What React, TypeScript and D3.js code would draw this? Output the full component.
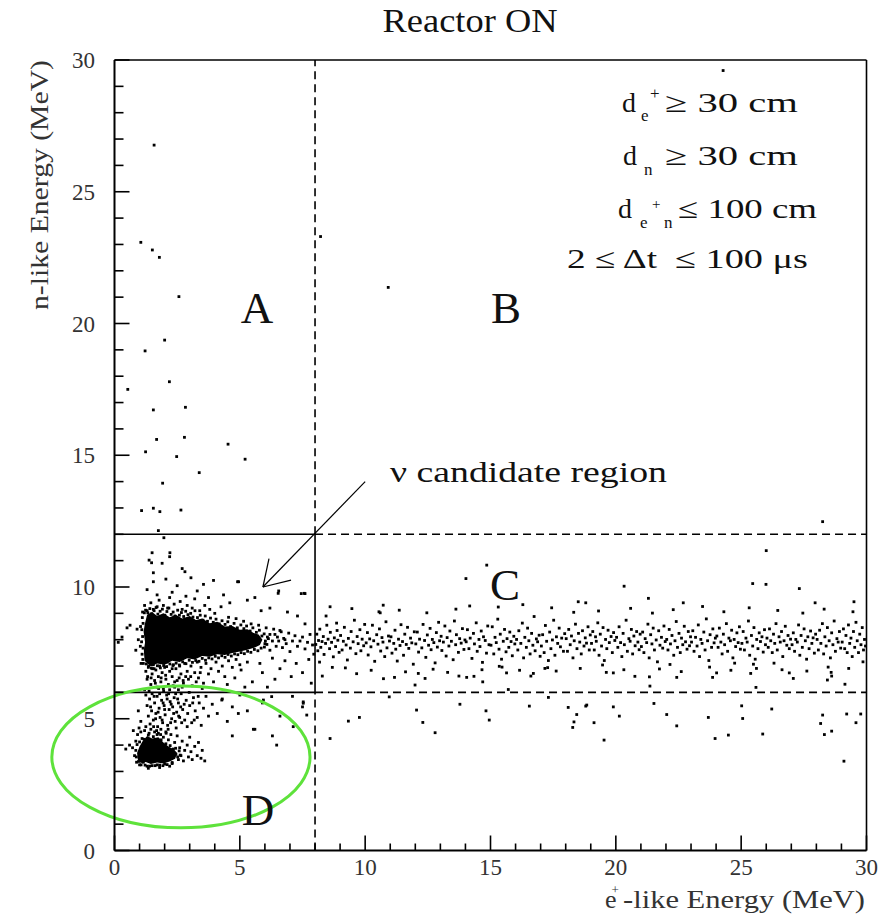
import React from 'react';
import * as d3 from 'd3';

const W = 879;
const H = 916;

const xDomain: [number, number] = [0, 30];
const yDomain: [number, number] = [0, 30];
const xMajorTicks = [0, 5, 10, 15, 20, 25, 30];
const yMajorTicks = [0, 5, 10, 15, 20, 25, 30];
const minorTicks = [1, 2, 3, 4, 6, 7, 8, 9, 11, 12, 13, 14, 16, 17, 18, 19, 21, 22, 23, 24, 26, 27, 28, 29];

const ePlusCut = 8;
const nLowCut = 6;
const nHighCut = 12;

const arrowFrom: [number, number] = [10, 14];
const arrowTo: [number, number] = [5.92, 10.0];

const ellipseCenter: [number, number] = [2.65, 3.55];
const ellipseRadii: [number, number] = [5.15, 2.69];

// saturated (fully black) parts of the two dense clusters
const coreUpper: [number, number][] = [
  [1.2, 7.2], [1.17, 7.6], [1.22, 7.9], [1.16, 8.3], [1.21, 8.6], [1.3, 8.95], [1.5, 9.05], [1.7, 8.9],
  [1.95, 9.0], [2.2, 8.85], [2.45, 8.95], [2.7, 8.8], [3.0, 8.9], [3.25, 8.75], [3.5, 8.8], [3.8, 8.62],
  [4.1, 8.68], [4.4, 8.5], [4.7, 8.52], [5.0, 8.38], [5.3, 8.4], [5.55, 8.25], [5.75, 8.2], [5.9, 8.0],
  [5.8, 7.8], [5.6, 7.7], [5.3, 7.62], [5.0, 7.55], [4.7, 7.5], [4.4, 7.42], [4.1, 7.45], [3.8, 7.35],
  [3.5, 7.38], [3.2, 7.25], [2.9, 7.3], [2.6, 7.15], [2.3, 7.2], [2.0, 7.05], [1.7, 7.1], [1.45, 6.98],
];
const coreLower: [number, number][] = [
  [0.93, 3.45], [1.05, 3.32], [1.25, 3.36], [1.45, 3.28], [1.7, 3.34], [1.95, 3.3], [2.2, 3.38], [2.42, 3.48],
  [2.5, 3.7], [2.35, 3.85], [2.15, 3.95], [1.95, 4.1], [1.75, 4.3], [1.5, 4.25], [1.3, 4.35], [1.12, 4.15],
  [1.0, 3.95], [0.9, 3.7],
];

const eventsHighN: [number, number][] = [
  [1.58, 26.77], [1.05, 23.08], [1.51, 22.79], [1.79, 22.51], [2.57, 21.02], [2.0, 19.37], [1.22, 18.96],
  [2.19, 17.79], [0.53, 17.5], [1.55, 16.72], [2.83, 16.82], [1.68, 15.6], [2.79, 15.68], [4.53, 15.42],
  [1.24, 15.13], [2.48, 14.95], [5.21, 14.85], [8.22, 23.3], [10.92, 21.37], [24.28, 29.6], [3.38, 14.34],
  [1.92, 13.94], [1.08, 12.9], [1.55, 12.99], [1.81, 12.86], [2.65, 12.92], [1.75, 12.14], [1.97, 11.87],
  [2.21, 11.3], [1.38, 11.02], [1.48, 10.92], [1.55, 10.54], [2.81, 10.58], [28.25, 12.48], [26.0, 11.38],
  [4.91, 10.2], [6.53, 9.76], [7.57, 9.76],
];

const eventsCoreEdge: [number, number][] = [
  [1.24, 9.12], [1.33, 9.02], [1.41, 9.18], [1.47, 8.98], [1.58, 9.1], [1.66, 9.22], [1.73, 8.97], [1.82, 9.08],
  [1.91, 9.16], [2.01, 8.93], [2.09, 9.07], [2.17, 9.2], [2.26, 8.96], [2.34, 9.05], [2.41, 8.9], [2.52, 9.12],
  [2.59, 8.93], [2.67, 9.03], [2.76, 8.88], [2.84, 9.08], [2.93, 8.95], [3.04, 9.0], [3.13, 8.86], [3.21, 9.1],
  [3.31, 8.84], [3.42, 8.93], [3.53, 8.74], [3.62, 8.9], [3.71, 8.7], [3.83, 8.82], [3.94, 8.66], [4.05, 8.78],
  [4.18, 8.6], [4.29, 8.72], [4.41, 8.58], [4.52, 8.68], [4.63, 8.5], [4.77, 8.62], [4.9, 8.45], [5.04, 8.56],
  [5.16, 8.42], [5.27, 8.52], [5.41, 8.33], [5.52, 8.45], [5.66, 8.28], [5.78, 8.36], [5.88, 8.14], [5.97, 8.22],
  [6.02, 7.95], [6.08, 7.82], [5.98, 7.72], [5.85, 7.68], [6.14, 8.04],
  [5.72, 7.58], [5.58, 7.63], [5.44, 7.52], [5.31, 7.56], [5.18, 7.47], [5.05, 7.51], [4.92, 7.43], [4.79, 7.46],
  [4.66, 7.38], [4.53, 7.44], [4.41, 7.33], [4.28, 7.39], [4.15, 7.31], [4.02, 7.37], [3.89, 7.27], [3.76, 7.31],
  [3.63, 7.22], [3.5, 7.29], [3.37, 7.18], [3.24, 7.21], [3.11, 7.14], [2.98, 7.22], [2.85, 7.09], [2.72, 7.16],
  [2.59, 7.04], [2.46, 7.11], [2.33, 7.02], [2.21, 7.08], [2.08, 6.98], [1.96, 7.02], [1.83, 6.93], [1.71, 7.01],
  [1.58, 6.9], [1.47, 6.92], [1.36, 7.0], [1.27, 7.08],
  [1.13, 7.25], [1.1, 7.45], [1.14, 7.68], [1.08, 7.92], [1.12, 8.12], [1.09, 8.38], [1.14, 8.62], [1.11, 8.84],
  [1.19, 9.02], [1.06, 7.1], [1.04, 8.5], [1.03, 7.75],
  [0.87, 3.55], [0.85, 3.8], [0.9, 4.02], [0.96, 3.38], [1.06, 3.25], [1.18, 4.22], [1.22, 3.24], [1.35, 4.38],
  [1.4, 3.2], [1.55, 4.32], [1.62, 3.22], [1.7, 4.4], [1.8, 3.24], [1.86, 4.2], [1.93, 3.22], [2.05, 4.05],
  [2.1, 3.26], [2.22, 3.98], [2.3, 3.34], [2.44, 3.88], [2.52, 3.55], [2.58, 3.78], [2.62, 3.62], [1.0, 4.12],
  [1.08, 3.45],
];

const eventsCandidate: [number, number][] = [
  [1.12, 9.05], [1.2, 9.3], [1.3, 9.1], [1.45, 9.4], [1.55, 9.15], [1.7, 9.25],
  [1.78, 9.5], [1.95, 9.3], [2.12, 9.2], [2.2, 9.6], [2.38, 9.35],
  [2.62, 9.45], [2.7, 9.15], [2.9, 9.3], [3.1, 9.2],
  [3.2, 9.55], [3.4, 9.1], [3.6, 9.3], [3.8, 9.15],
  [4.0, 9.0], [4.25, 9.25], [4.55, 8.85], [4.85, 8.8],
  [5.15, 8.7], [5.45, 8.6], [5.75, 8.55], [6.05, 8.45], [6.2, 8.2],
  [6.35, 8.4], [6.5, 8.1], [6.65, 8.3], [6.8, 8.0],
  [1.3, 9.9], [1.55, 10.2], [1.7, 9.7], [2.05, 10.3], [2.3, 9.8], [2.5, 10.05], [2.85, 9.65], [3.05, 10.35],
  [3.3, 9.85], [3.55, 10.1], [3.75, 9.6], [3.95, 10.25], [4.35, 9.7], [4.6, 9.4], [4.95, 10.2], [5.3, 9.5],
  [5.6, 9.6], [6.55, 9.85], [7.45, 9.75], [6.2, 9.2], [5.85, 9.1], [6.9, 9.05], [7.3, 8.9], [7.6, 8.6],
  [1.9, 10.9], [2.2, 11.15], [1.5, 11.3], [2.7, 10.7],
  [6.0, 7.85], [6.1, 8.1], [6.2, 7.6], [6.3, 7.95], [6.4, 8.2], [6.45, 7.75], [6.55, 7.95], [6.6, 8.35],
  [6.7, 7.7], [6.75, 8.05], [6.85, 7.85], [6.95, 8.25], [7.0, 7.55], [7.1, 7.95], [7.2, 8.15], [7.3, 7.75],
  [7.4, 7.95], [7.5, 8.1], [7.6, 7.65], [7.7, 7.9], [7.8, 8.2], [7.9, 7.8], [7.95, 7.45], [6.3, 7.3],
  [6.8, 7.2], [7.25, 7.1], [7.75, 7.25], [6.6, 6.9], [7.05, 6.6], [7.5, 6.75], [5.9, 6.75], [6.4, 6.5],
  [7.85, 6.35], [6.1, 6.2], [5.5, 6.4], [5.8, 7.1], [5.3, 7.15], [5.05, 6.85], [4.8, 6.55], [4.5, 6.3],
  [5.2, 6.2],
  [1.15, 7.1], [1.25, 6.8], [1.3, 6.5], [1.35, 6.95], [1.45, 6.3], [1.5, 6.7], [1.55, 7.05], [1.6, 6.45],
  [1.65, 6.85], [1.7, 6.2], [1.75, 6.6], [1.8, 7.0], [1.85, 6.4], [1.9, 6.75], [1.95, 6.15], [2.0, 6.95],
  [2.05, 6.5], [2.1, 7.15], [2.15, 6.3], [2.2, 6.8], [2.3, 6.6], [2.35, 7.05], [2.4, 6.2], [2.45, 6.9],
  [2.5, 6.45], [2.6, 7.0], [2.65, 6.7], [2.75, 6.35], [2.8, 7.1], [2.9, 6.8], [2.95, 6.5], [3.05, 7.0],
  [3.1, 6.25], [3.2, 6.75], [3.3, 7.15], [3.35, 6.55], [3.45, 6.95], [3.55, 6.35], [3.65, 7.1], [3.75, 6.7],
  [3.85, 6.9], [3.95, 6.4], [4.05, 7.15], [4.15, 6.8], [4.3, 7.0], [4.4, 6.6], [4.55, 7.2], [4.7, 6.95],
  [4.85, 7.25], [5.0, 7.05], [1.2, 6.1], [2.55, 6.1], [3.5, 6.15], [0.85, 7.6], [0.95, 8.0], [0.9, 8.4],
  [0.5, 8.45], [0.62, 8.55], [0.15, 7.9], [0.3, 8.1],
];

const eventsLowN: [number, number][] = [
  [1.25, 5.9], [1.3, 5.5], [1.35, 5.1], [1.4, 5.75], [1.42, 4.8], [1.48, 5.3], [1.5, 5.95], [1.55, 4.95],
  [1.6, 5.6], [1.65, 5.2], [1.7, 5.85], [1.72, 4.7], [1.78, 5.4], [1.82, 5.05], [1.88, 5.7], [1.92, 4.85],
  [1.98, 5.5], [2.02, 5.15], [2.08, 5.9], [2.12, 4.75], [2.18, 5.35], [2.22, 5.65], [2.28, 5.0], [2.32, 5.45],
  [2.38, 5.8], [2.42, 4.9], [2.48, 5.25], [2.55, 5.6], [2.6, 5.05], [2.66, 5.95], [2.72, 5.35], [2.8, 4.95],
  [2.86, 5.7], [2.92, 5.2], [3.0, 5.5], [3.08, 4.85], [3.15, 5.8], [3.22, 5.3], [3.3, 5.05], [3.38, 5.6],
  [3.46, 4.75], [3.55, 5.4], [3.65, 5.85], [3.75, 5.1], [3.9, 5.55], [4.1, 5.2], [4.3, 5.75], [4.5, 4.9],
  [4.7, 5.45], [5.0, 5.9], [5.3, 5.3], [5.6, 4.6], [5.9, 5.6], [6.3, 4.35], [6.6, 5.1], [7.1, 5.85],
  [7.5, 5.45], [1.05, 4.9], [0.95, 5.3], [0.75, 4.55],
  [4.7, 4.35], [5.54, 4.6], [6.47, 4.0], [7.13, 4.7], [4.94, 5.2], [4.28, 5.71], [5.94, 5.71], [7.53, 5.59],
  [6.27, 5.84],
  [1.32, 6.6], [1.38, 6.05], [1.44, 5.45], [1.52, 6.9], [1.58, 5.85], [1.63, 6.35], [1.68, 4.55], [1.74, 5.25],
  [1.8, 5.95], [1.86, 6.55], [1.9, 4.95], [1.96, 6.05], [2.0, 5.35], [2.04, 6.65], [2.1, 5.75], [2.14, 4.6],
  [2.2, 6.1], [2.26, 5.55], [2.3, 6.9], [2.36, 5.2], [2.4, 6.4], [2.46, 4.65], [2.52, 5.75], [2.58, 6.55],
  [2.64, 5.45], [2.7, 6.2], [2.78, 5.55], [2.84, 6.6], [2.9, 4.7], [2.98, 6.0], [3.04, 6.6], [3.12, 5.6],
  [3.18, 4.95], [3.26, 6.4], [3.34, 5.85], [3.42, 6.75], [1.46, 6.55], [1.56, 4.7], [1.64, 5.0], [1.76, 6.15],
  [1.84, 4.4], [1.94, 5.6], [2.06, 4.45], [2.16, 5.95], [2.24, 4.85], [2.34, 6.25], [2.44, 5.95], [2.56, 5.1],
  [2.68, 4.85], [2.74, 6.45],
  [0.72, 3.9], [0.8, 3.6], [0.85, 4.15], [0.88, 3.35], [0.92, 4.4], [1.0, 3.25], [1.05, 4.5], [1.1, 4.25],
  [1.2, 4.55], [1.3, 3.2], [1.38, 4.45], [1.45, 4.6], [1.5, 3.22], [1.6, 4.5], [1.7, 3.25], [1.75, 4.45],
  [1.85, 4.6], [1.95, 4.3], [2.0, 3.28], [2.05, 4.5], [2.15, 4.2], [2.25, 4.4], [2.3, 3.3], [2.4, 4.1],
  [2.5, 4.35], [2.55, 3.45], [2.6, 3.9], [2.65, 3.6], [2.7, 4.15], [2.75, 3.4], [2.8, 3.8], [2.9, 4.0],
  [2.95, 3.55], [3.0, 4.3], [3.05, 3.75], [3.1, 3.45], [3.2, 3.95], [3.3, 3.6], [3.35, 4.1], [3.45, 3.5],
  [3.5, 3.8], [3.6, 3.4], [0.6, 4.0], [0.45, 3.85], [2.2, 3.2], [1.8, 3.15], [1.35, 3.12], [2.45, 3.65],
  [2.35, 3.85], [0.98, 4.65], [1.25, 4.7], [1.15, 3.35],
];

const eventsBandC: [number, number][] = [
  [8.03, 7.82], [8.07, 8.21], [8.11, 7.58], [8.14, 7.97], [8.19, 8.4], [8.23, 7.71], [8.28, 7.93], [8.33, 8.12],
  [8.36, 7.44], [8.42, 7.86], [8.47, 8.55], [8.52, 8.02], [8.58, 7.66], [8.61, 8.28], [8.66, 7.9], [8.73, 7.35],
  [8.77, 8.07], [8.82, 7.74], [8.86, 8.63], [8.91, 7.98], [8.96, 7.52], [8.18, 7.15], [8.44, 8.9], [8.69, 6.95],
  [8.29, 6.62], [8.88, 8.35],
  [9.02, 8.16], [9.08, 7.61], [9.13, 7.94], [9.17, 8.47], [9.24, 7.8], [9.29, 7.23], [9.33, 8.05], [9.41, 7.68],
  [9.44, 8.31], [9.52, 7.92], [9.57, 8.74], [9.63, 7.47], [9.68, 8.12], [9.72, 7.85], [9.79, 8.38], [9.83, 7.58],
  [9.88, 8.02], [9.94, 7.77], [9.21, 6.93], [9.66, 6.71], [9.47, 9.18], [9.98, 8.58],
  [10.04, 7.88], [10.09, 8.27], [10.12, 7.42], [10.18, 8.03], [10.23, 7.73], [10.29, 8.55], [10.34, 7.96],
  [10.38, 7.18], [10.46, 8.19], [10.51, 7.83], [10.57, 8.41], [10.62, 7.57], [10.67, 8.08], [10.71, 7.91],
  [10.78, 7.36], [10.83, 8.68], [10.87, 7.69], [10.93, 8.14], [10.97, 7.95], [10.24, 6.84], [10.73, 6.52],
  [10.55, 9.06],
  [11.03, 8.11], [11.07, 7.49], [11.14, 7.86], [11.19, 8.36], [11.22, 7.64], [11.28, 7.19], [11.33, 8.02],
  [11.39, 7.78], [11.43, 8.57], [11.49, 7.93], [11.53, 7.41], [11.58, 8.21], [11.64, 7.82], [11.69, 8.47],
  [11.74, 7.67], [11.81, 8.06], [11.86, 7.88], [11.92, 7.07], [11.96, 8.3], [11.36, 9.12], [11.61, 6.78],
  [11.17, 6.57],
  [12.02, 7.84], [12.08, 8.29], [12.13, 7.53], [12.17, 8.02], [12.26, 7.69], [12.31, 8.58], [12.37, 7.97],
  [12.42, 7.33], [12.48, 8.18], [12.53, 7.79], [12.59, 8.43], [12.63, 7.62], [12.68, 8.01], [12.74, 7.89],
  [12.79, 7.12], [12.84, 8.27], [12.88, 7.72], [12.93, 8.66], [12.97, 7.96], [12.46, 9.02], [12.71, 6.88],
  [13.03, 8.13], [13.06, 7.59], [13.12, 7.91], [13.18, 8.52], [13.23, 7.38], [13.27, 8.08], [13.34, 7.76],
  [13.38, 8.33], [13.44, 7.94], [13.51, 7.24], [13.56, 8.71], [13.61, 7.81], [13.64, 8.19], [13.72, 7.52],
  [13.77, 8.04], [13.83, 7.87], [13.88, 8.42], [13.94, 7.63], [13.29, 6.76], [13.62, 9.16], [13.74, 6.62],
  [13.98, 7.99],
  [14.03, 7.92], [14.08, 8.38], [14.14, 7.66], [14.19, 8.06], [14.26, 7.29], [14.32, 8.24], [14.36, 7.84],
  [14.43, 8.64], [14.47, 7.56], [14.54, 8.01], [14.58, 7.74], [14.63, 8.33], [14.68, 7.14], [14.72, 8.11],
  [14.79, 7.97], [14.84, 7.49], [14.89, 8.52], [14.94, 7.81], [14.17, 9.28], [14.66, 6.86], [14.34, 6.61],
  [15.02, 7.79], [15.07, 8.49], [15.13, 7.46], [15.18, 8.09], [15.23, 7.89], [15.29, 8.78], [15.34, 7.64],
  [15.39, 8.21], [15.44, 7.26], [15.51, 7.94], [15.56, 8.39], [15.62, 7.54], [15.66, 8.04], [15.73, 7.71],
  [15.77, 8.29], [15.82, 7.93], [15.87, 7.39], [15.93, 8.13], [15.97, 7.84], [15.31, 9.24], [15.64, 6.74],
  [15.46, 6.96],
  [16.04, 8.01], [16.09, 7.61], [16.13, 8.34], [16.21, 7.86], [16.27, 8.63], [16.32, 7.31], [16.37, 8.09],
  [16.43, 7.71], [16.48, 8.44], [16.53, 7.96], [16.58, 7.46], [16.64, 8.24], [16.69, 7.79], [16.74, 8.88],
  [16.78, 7.58], [16.83, 8.03], [16.88, 7.92], [16.94, 8.17], [16.98, 7.37], [16.29, 9.33], [16.61, 6.62],
  [16.16, 6.84],
  [17.03, 7.76], [17.08, 8.19], [17.14, 7.51], [17.19, 8.54], [17.24, 7.94], [17.31, 7.21], [17.36, 8.29],
  [17.41, 7.66], [17.47, 7.99], [17.52, 8.74], [17.57, 7.41], [17.63, 8.11], [17.68, 7.86], [17.74, 8.44],
  [17.79, 7.73], [17.84, 8.06], [17.91, 7.56], [17.96, 8.23], [17.44, 9.21], [17.62, 6.81], [17.28, 6.94],
  [18.02, 8.04], [18.07, 7.56], [18.12, 8.39], [18.18, 7.81], [18.23, 8.14], [18.29, 7.31], [18.34, 7.96],
  [18.39, 8.59], [18.45, 7.66], [18.51, 8.24], [18.56, 7.91], [18.62, 7.46], [18.67, 8.34], [18.73, 7.76],
  [18.78, 8.07], [18.83, 7.87], [18.89, 8.49], [18.94, 7.61], [18.98, 8.18], [18.32, 9.04], [18.58, 6.91],
  [19.03, 7.86], [19.08, 8.31], [19.14, 7.61], [19.19, 8.11], [19.22, 7.94], [19.28, 8.64], [19.33, 7.41],
  [19.38, 8.21], [19.43, 7.76], [19.49, 8.46], [19.54, 7.21], [19.59, 8.01], [19.64, 7.66], [19.69, 8.36],
  [19.74, 7.89], [19.81, 8.12], [19.86, 7.51], [19.91, 8.27], [19.96, 7.97], [19.31, 9.09], [19.62, 6.76],
  [19.47, 7.04],
  [20.03, 8.09], [20.08, 7.71], [20.13, 8.49], [20.19, 7.89], [20.24, 7.36], [20.29, 8.24], [20.34, 7.81],
  [20.41, 8.74], [20.46, 7.56], [20.52, 8.04], [20.57, 7.94], [20.62, 8.39], [20.67, 7.46], [20.72, 8.14],
  [20.77, 7.77], [20.83, 8.31], [20.88, 7.91], [20.93, 7.62], [20.97, 8.21], [20.32, 6.86], [20.59, 9.19],
  [20.76, 6.61],
  [21.02, 7.74], [21.07, 8.29], [21.12, 7.51], [21.17, 8.04], [21.23, 7.89], [21.28, 8.59], [21.33, 7.31],
  [21.39, 8.19], [21.44, 7.84], [21.49, 8.44], [21.54, 7.61], [21.61, 7.99], [21.66, 7.16], [21.71, 8.34],
  [21.76, 7.79], [21.82, 8.09], [21.87, 7.68], [21.92, 8.52], [21.97, 7.93], [21.46, 9.01], [21.74, 6.89],
  [22.03, 8.01], [22.08, 7.61], [22.13, 8.39], [22.18, 7.84], [22.24, 8.16], [22.31, 7.41], [22.36, 7.96],
  [22.41, 8.69], [22.46, 7.71], [22.52, 8.24], [22.57, 7.51], [22.62, 8.06], [22.67, 7.81], [22.73, 8.51],
  [22.78, 7.92], [22.84, 7.64], [22.89, 8.31], [22.94, 7.77], [22.98, 8.11], [22.29, 9.14], [22.61, 6.79],
  [22.16, 7.06],
  [23.02, 7.91], [23.07, 8.34], [23.12, 7.56], [23.18, 8.09], [23.24, 7.76], [23.29, 8.56], [23.34, 7.36],
  [23.39, 8.01], [23.44, 7.86], [23.51, 8.29], [23.56, 7.61], [23.61, 8.79], [23.66, 7.96], [23.71, 7.21],
  [23.76, 8.19], [23.82, 7.71], [23.87, 8.41], [23.92, 7.88], [23.97, 8.06], [23.46, 9.26], [23.74, 6.96],
  [24.03, 8.14], [24.08, 7.71], [24.13, 8.44], [24.19, 7.91], [24.24, 7.46], [24.29, 8.21], [24.34, 7.81],
  [24.41, 8.61], [24.46, 7.56], [24.51, 8.06], [24.57, 7.96], [24.62, 8.36], [24.67, 7.31], [24.72, 8.01],
  [24.78, 7.74], [24.83, 8.26], [24.88, 7.89], [24.93, 8.49], [24.97, 7.64], [24.31, 9.06], [24.59, 6.84],
  [24.74, 7.11],
  [25.03, 7.86], [25.08, 8.31], [25.13, 7.61], [25.19, 8.06], [25.24, 7.91], [25.29, 8.71], [25.34, 7.41],
  [25.41, 8.16], [25.46, 7.76], [25.51, 8.46], [25.56, 7.26], [25.62, 8.01], [25.67, 7.66], [25.72, 8.26],
  [25.77, 7.93], [25.83, 8.11], [25.88, 7.53], [25.93, 8.38], [25.97, 7.81], [25.32, 9.21], [25.61, 6.91],
  [26.03, 8.06], [26.08, 7.71], [26.13, 8.41], [26.18, 7.96], [26.24, 7.51], [26.29, 8.21], [26.34, 7.86],
  [26.39, 8.61], [26.44, 7.61], [26.51, 8.11], [26.56, 7.91], [26.61, 8.31], [26.66, 7.36], [26.71, 7.96],
  [26.76, 8.51], [26.82, 7.79], [26.87, 8.16], [26.92, 7.66], [26.97, 8.02], [26.46, 9.11], [26.63, 6.86],
  [26.31, 7.11],
  [27.03, 7.81], [27.08, 8.26], [27.13, 7.56], [27.18, 8.01], [27.24, 7.91], [27.29, 8.56], [27.34, 7.41],
  [27.39, 8.16], [27.44, 7.71], [27.51, 8.41], [27.56, 7.96], [27.61, 7.26], [27.66, 8.11], [27.71, 7.66],
  [27.77, 8.33], [27.82, 7.86], [27.87, 8.07], [27.92, 7.49], [27.97, 8.21], [27.46, 9.01], [27.62, 6.81],
  [28.03, 8.01], [28.08, 7.61], [28.13, 8.36], [28.18, 7.86], [28.24, 8.61], [28.29, 7.46], [28.34, 8.11],
  [28.39, 7.76], [28.44, 8.46], [28.51, 7.96], [28.56, 7.31], [28.61, 8.26], [28.66, 7.81], [28.71, 8.71],
  [28.76, 7.56], [28.82, 8.04], [28.87, 7.91], [28.92, 8.31], [28.97, 7.68], [28.31, 9.16], [28.59, 6.76],
  [28.47, 6.96],
  [29.03, 7.91], [29.08, 8.41], [29.13, 7.66], [29.18, 8.16], [29.23, 7.51], [29.28, 8.56], [29.33, 7.86],
  [29.38, 8.06], [29.43, 7.36], [29.48, 8.31], [29.53, 7.71], [29.58, 8.66], [29.63, 7.96], [29.68, 7.51],
  [29.73, 8.21], [29.78, 7.81], [29.83, 8.46], [29.88, 7.61], [29.92, 8.01], [29.96, 7.76], [29.46, 9.06],
  [29.29, 6.91], [29.86, 7.16],
];

const eventsOutliersC: [number, number][] = [
  [14.85, 10.83], [14.02, 10.32], [18.5, 9.44], [18.8, 9.4], [10.72, 9.31], [10.6, 9.02], [8.6, 9.25],
  [7.6, 9.75], [7.53, 5.64], [7.67, 5.14], [8.6, 4.25], [9.33, 4.91], [9.77, 5.05], [12.05, 5.33],
  [12.3, 4.86], [12.79, 4.47], [13.78, 5.55], [14.82, 5.3], [14.95, 4.95], [10.96, 5.83], [16.55, 5.48],
  [18.1, 5.43], [18.44, 5.16], [18.33, 4.88], [18.28, 4.67], [18.8, 5.48], [11.99, 6.28], [12.39, 6.53],
  [12.12, 6.72], [15.71, 6.11], [14.05, 6.57], [14.69, 6.4], [15.35, 6.99], [16.71, 6.72], [17.17, 6.91],
  [17.31, 5.81], [20.33, 10.03], [25.46, 10.13], [25.99, 10.1], [27.32, 9.94], [21.3, 9.57], [22.69, 9.4],
  [27.95, 9.4], [29.5, 9.44], [18.84, 5.52], [19.9, 5.45], [20.14, 5.1], [19.13, 4.85], [19.53, 4.19],
  [21.52, 5.58], [22.03, 5.16], [22.43, 4.73], [23.69, 5.05], [23.96, 4.25], [24.49, 4.38], [25.06, 5.01],
  [25.02, 5.49], [26.22, 5.37], [25.86, 4.42], [28.25, 5.14], [28.17, 4.82], [28.32, 4.4], [28.61, 4.53],
  [29.21, 5.18], [29.58, 4.85], [29.77, 5.18], [29.1, 3.39], [21.36, 6.24], [19.9, 6.74], [21.34, 6.59],
  [22.43, 6.57], [23.86, 6.57], [24.02, 6.74], [25.38, 6.72], [25.59, 6.19], [26.92, 6.74], [27.08, 6.53],
  [28.44, 6.47], [28.61, 6.62], [29.14, 6.31], [25.49, 7.07],
];

const allEvents = [
  ...eventsHighN,
  ...eventsCoreEdge,
  ...eventsCandidate,
  ...eventsLowN,
  ...eventsBandC,
  ...eventsOutliersC,
];

const FONT = "'Liberation Serif', 'Times New Roman', 'DejaVu Serif', serif";
const INK = '#111';

export default function App() {
  const x = d3.scaleLinear().domain(xDomain).range([114.5, 866.5]);
  const y = d3.scaleLinear().domain(yDomain).range([850.5, 60]);

  const blob = d3
    .line<[number, number]>()
    .x((d) => x(d[0]))
    .y((d) => y(d[1]))
    .curve(d3.curveLinearClosed);

  const ms = 2.8;

  const ax0 = x(arrowFrom[0]);
  const ay0 = y(arrowFrom[1]);
  const ax1 = x(arrowTo[0]);
  const ay1 = y(arrowTo[1]);
  const ang = Math.atan2(ay0 - ay1, ax0 - ax1);
  const barb = 29;
  const half = (32 * Math.PI) / 180;
  const b1 = [ax1 + barb * Math.cos(ang - half), ay1 + barb * Math.sin(ang - half)];
  const b2 = [ax1 + barb * Math.cos(ang + half), ay1 + barb * Math.sin(ang + half)];

  const dash = '8,5';

  return (
    <svg
      width={W}
      height={H}
      viewBox={`0 0 ${W} ${H}`}
      style={{ position: 'absolute', left: 0, top: 0, display: 'block', background: '#fff' }}
      fontFamily={FONT}
    >
      <rect x={0} y={0} width={W} height={H} fill="#fff" />

      <text x={470} y={32} fontSize={33} textAnchor="middle" fill={INK} textLength={175} lengthAdjust="spacingAndGlyphs">
        Reactor ON
      </text>

      <path d={blob(coreUpper) ?? ''} fill="#000" />
      <path d={blob(coreLower) ?? ''} fill="#000" />

      <g fill="#000">
        {allEvents.map((d, i) => (
          <rect key={i} x={x(d[0]) - ms / 2} y={y(d[1]) - ms / 2} width={ms} height={ms} />
        ))}
      </g>

      <g stroke="#000" strokeWidth={1.6} fill="none">
        <line x1={x(0)} x2={x(ePlusCut)} y1={y(nHighCut)} y2={y(nHighCut)} />
        <line x1={x(0)} x2={x(ePlusCut)} y1={y(nLowCut)} y2={y(nLowCut)} />
        <line x1={x(ePlusCut)} x2={x(ePlusCut)} y1={y(nLowCut)} y2={y(nHighCut)} />
        <line x1={x(ePlusCut)} x2={x(30)} y1={y(nHighCut)} y2={y(nHighCut)} strokeDasharray={dash} />
        <line x1={x(ePlusCut)} x2={x(30)} y1={y(nLowCut)} y2={y(nLowCut)} strokeDasharray={dash} />
        <line x1={x(ePlusCut)} x2={x(ePlusCut)} y1={y(nHighCut)} y2={y(30)} strokeDasharray={dash} />
        <line x1={x(ePlusCut)} x2={x(ePlusCut)} y1={y(0)} y2={y(nLowCut)} strokeDasharray={dash} />
      </g>

      <g stroke="#000" strokeWidth={1.2} fill="none">
        <line x1={ax0} y1={ay0} x2={ax1} y2={ay1} />
        <line x1={ax1} y1={ay1} x2={b1[0]} y2={b1[1]} />
        <line x1={ax1} y1={ay1} x2={b2[0]} y2={b2[1]} />
      </g>
      <text x={390} y={482} fontSize={29} fill={INK} textLength={277} lengthAdjust="spacingAndGlyphs">
        ν candidate region
      </text>

      <ellipse
        cx={x(ellipseCenter[0])}
        cy={y(ellipseCenter[1])}
        rx={x(ellipseRadii[0]) - x(0)}
        ry={y(0) - y(ellipseRadii[1])}
        fill="none"
        stroke="#5ee23b"
        strokeWidth={3}
      />

      <g fill="none" stroke="#000">
        <line x1={x(0)} x2={x(30)} y1={y(30)} y2={y(30)} strokeWidth={1.6} />
        <line x1={x(30)} x2={x(30)} y1={y(0)} y2={y(30)} strokeWidth={1.6} />
        <line x1={x(0)} x2={x(30)} y1={y(0)} y2={y(0)} strokeWidth={2} />
        <line x1={x(0)} x2={x(0)} y1={y(0)} y2={y(30)} strokeWidth={2} />
      </g>

      <g stroke="#000" strokeWidth={1.6}>
        {xMajorTicks.map((t) => (
          <line key={'xM' + t} x1={x(t)} x2={x(t)} y1={y(0)} y2={y(0) - 15} />
        ))}
        {minorTicks.map((t) => (
          <line key={'xm' + t} x1={x(t)} x2={x(t)} y1={y(0)} y2={y(0) - 7} />
        ))}
        {yMajorTicks.map((t) => (
          <line key={'yM' + t} x1={x(0)} x2={x(0) + 15} y1={y(t)} y2={y(t)} />
        ))}
        {minorTicks.map((t) => (
          <line key={'ym' + t} x1={x(0)} x2={x(0) + 9} y1={y(t)} y2={y(t)} />
        ))}
      </g>

      <g fontSize={23} fill="#333">
        {xMajorTicks.map((t) => (
          <text key={'xl' + t} x={x(t)} y={875} textAnchor="middle">
            {t}
          </text>
        ))}
        {yMajorTicks.map((t) => (
          <text key={'yl' + t} x={95} y={y(t) + 8} textAnchor="end">
            {t}
          </text>
        ))}
      </g>

      <text
        transform="translate(48,60) rotate(-90)"
        textAnchor="end"
        fontSize={25}
        fill="#333"
        textLength={250}
        lengthAdjust="spacingAndGlyphs"
      >
        n-like Energy (MeV)
      </text>
      <text x={605} y={908} fontSize={26} fill="#333">
        e
        <tspan dx={-5} dy={-14} fontSize={13}>+</tspan>
      </text>
      <text x={623} y={908} fontSize={26} fill="#333" textLength={242} lengthAdjust="spacingAndGlyphs">
        -like Energy (MeV)
      </text>

      <g fontSize={45} fill={INK} textAnchor="middle">
        <text x={257} y={323}>A</text>
        <text x={506} y={323}>B</text>
        <text x={505} y={600}>C</text>
        <text x={258} y={825}>D</text>
      </g>

      <g fill={INK}>
        <text x={622} y={112} fontSize={28}>d</text>
        <text x={641} y={121} fontSize={17}>e</text>
        <text x={650} y={99} fontSize={17}>+</text>
        <text x={665} y={112} fontSize={28} textLength={133} lengthAdjust="spacingAndGlyphs">≥ 30 cm</text>

        <text x={623} y={165} fontSize={28}>d</text>
        <text x={644} y={175} fontSize={17}>n</text>
        <text x={665} y={165} fontSize={28} textLength={133} lengthAdjust="spacingAndGlyphs">≥ 30 cm</text>

        <text x={618} y={218} fontSize={28}>d</text>
        <text x={640} y={228} fontSize={17}>e</text>
        <text x={652} y={209} fontSize={15}>+</text>
        <text x={664} y={228} fontSize={17}>n</text>
        <text x={678} y={218} fontSize={28} textLength={139} lengthAdjust="spacingAndGlyphs">≤ 100 cm</text>

        <text x={567} y={268} fontSize={28} textLength={90} lengthAdjust="spacingAndGlyphs">2 ≤ Δt</text>
        <text x={675} y={268} fontSize={28} textLength={133} lengthAdjust="spacingAndGlyphs">≤ 100 μs</text>
      </g>
    </svg>
  );
}
